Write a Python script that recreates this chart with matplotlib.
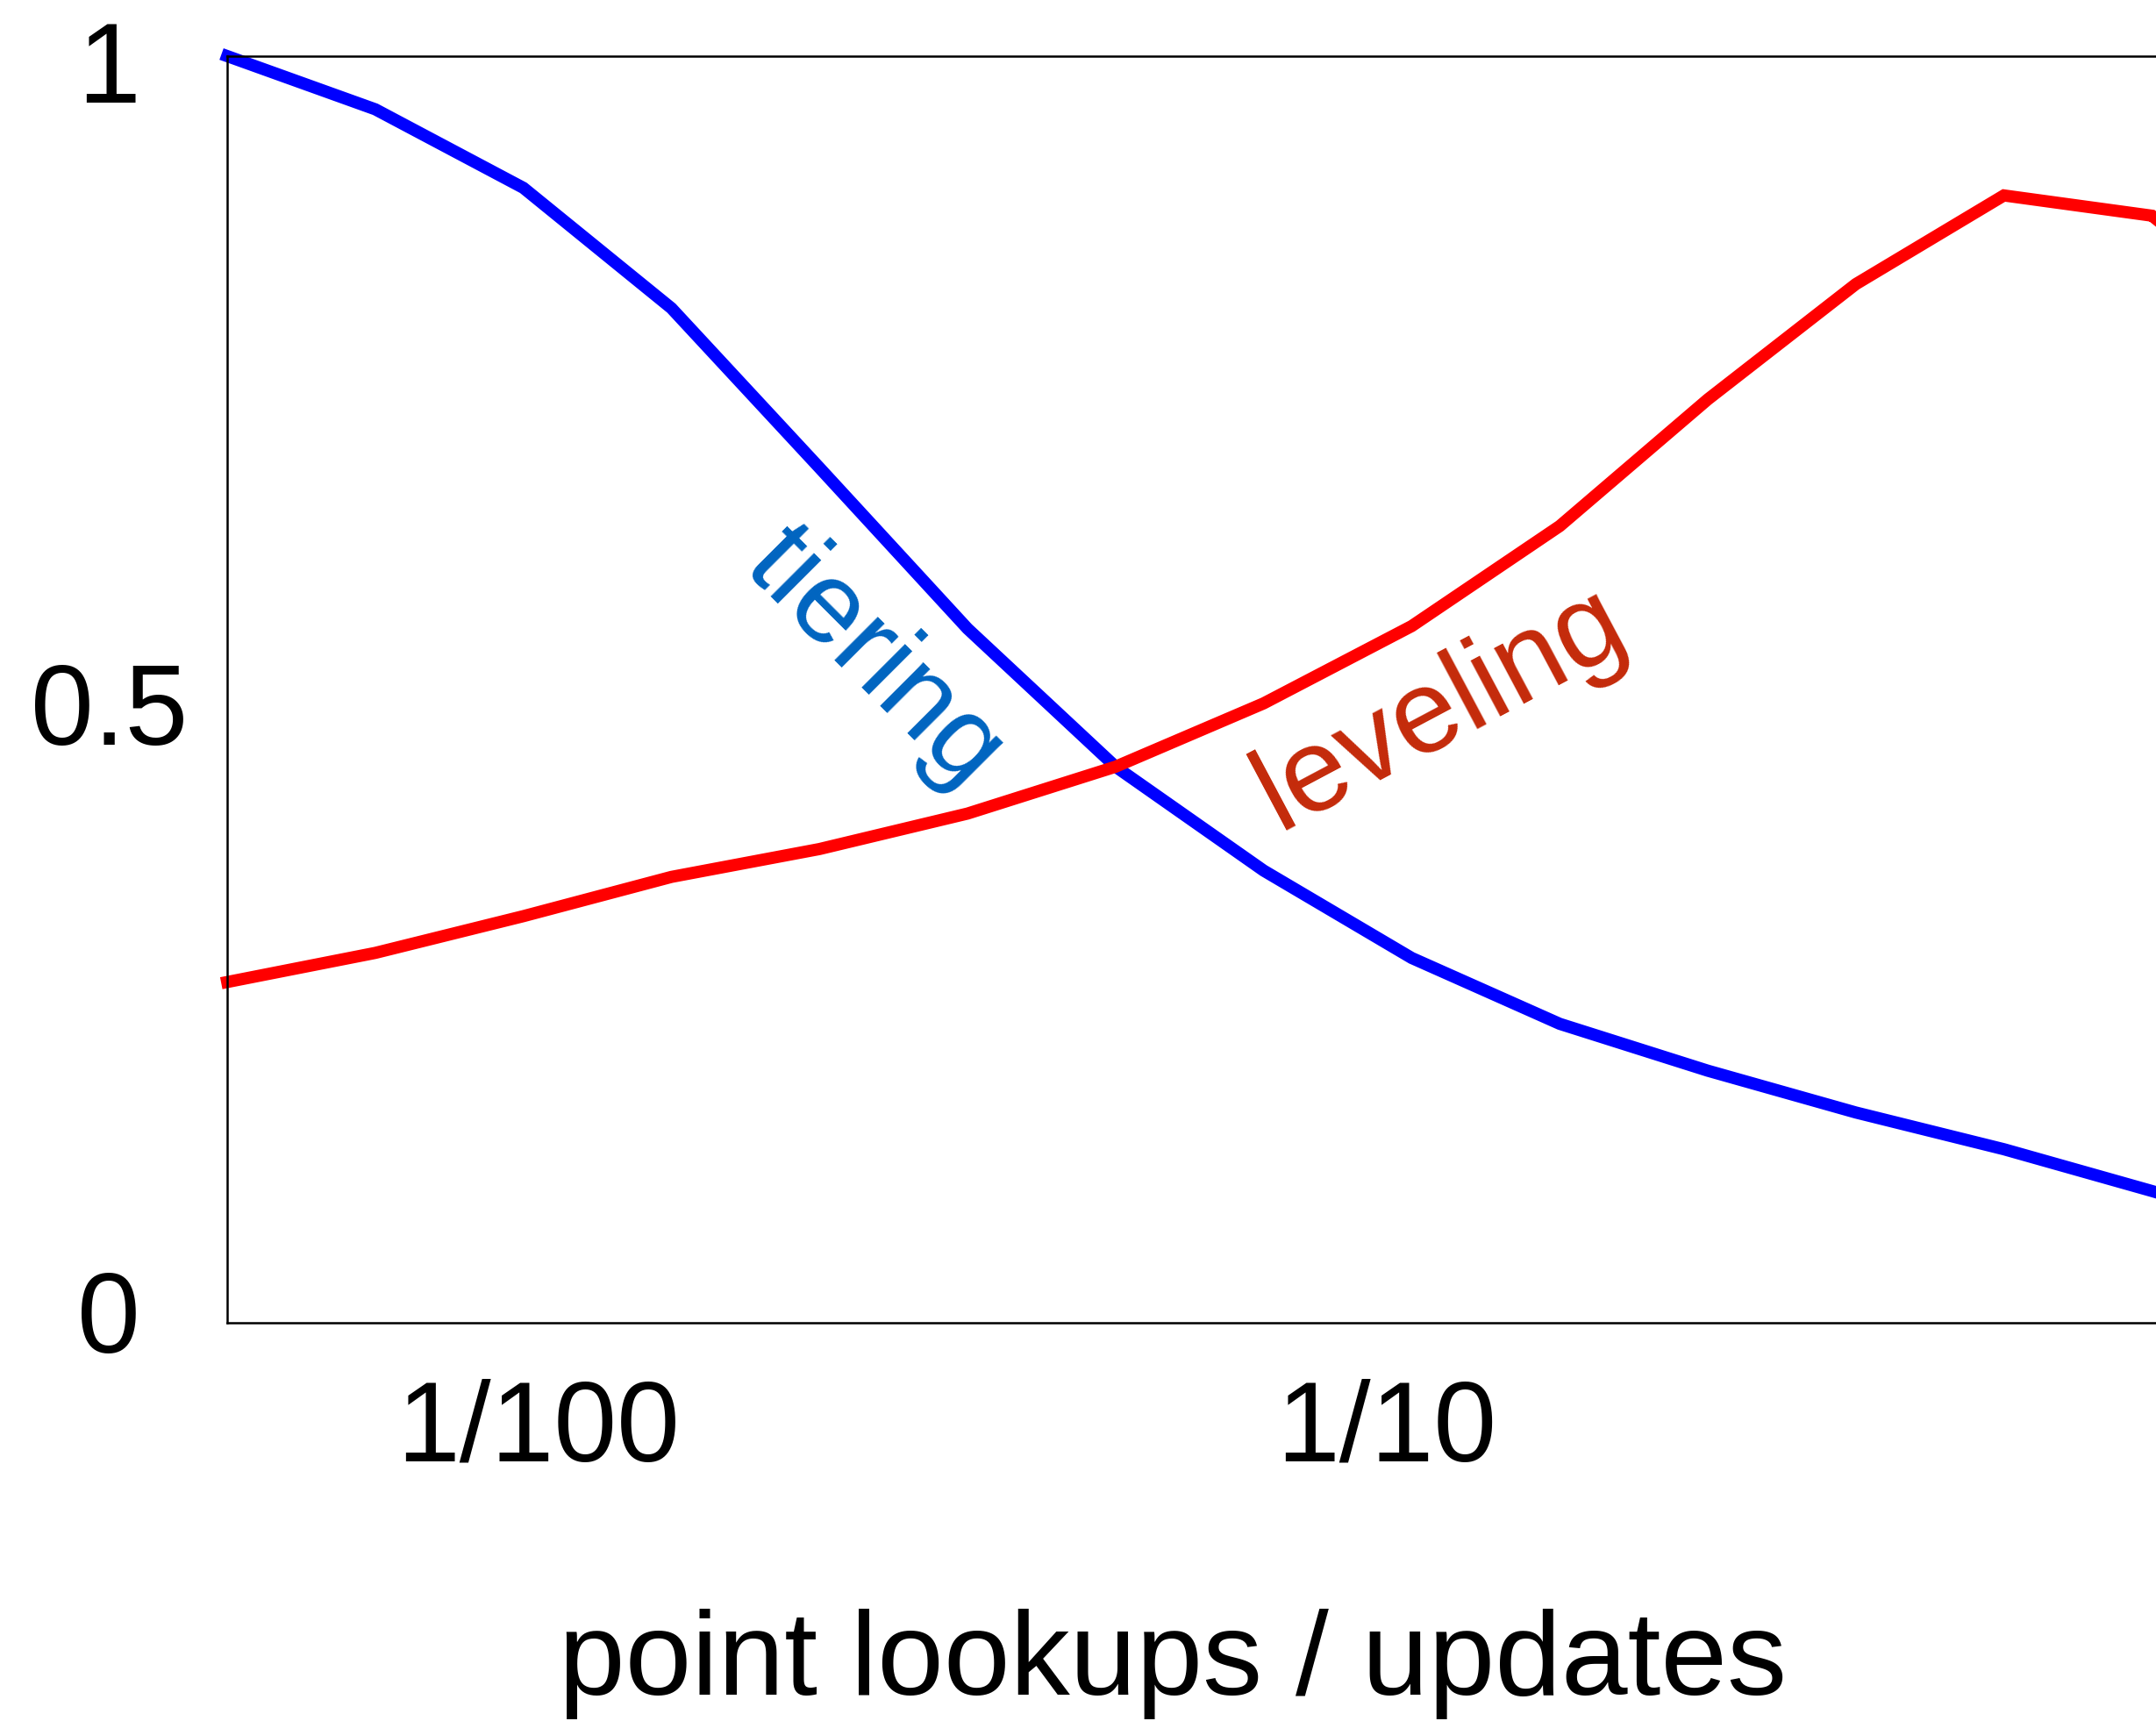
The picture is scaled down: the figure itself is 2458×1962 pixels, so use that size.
import matplotlib
matplotlib.use("Agg")
import matplotlib.pyplot as plt

# x positions of the measured points (evenly spaced on a log ratio axis)
steps = [0, 1, 2, 3, 4, 5, 6, 7, 8, 9, 10, 11, 12, 13, 14]
tiering = [1.0, 0.958, 0.896, 0.801, 0.675, 0.548, 0.439, 0.357, 0.288,
           0.236, 0.199, 0.166, 0.137, 0.104, 0.07]
leveling = [0.269, 0.292, 0.321, 0.352, 0.374, 0.402, 0.439, 0.489, 0.550,
            0.629, 0.729, 0.820, 0.890, 0.874, 0.78]

xtick_pos = [2.1, 7.83]
xtick_labels = ["1/100", "1/10"]
# labels in the original sit a little off their values, ticks are hidden
ytick_pos = [0.009, 0.489, 0.996]
ytick_labels = ["0", "0.5", "1"]

plt.rcParams['font.family'] = ['Liberation Sans', 'DejaVu Sans']

fig = plt.figure(figsize=(24.58, 19.62), dpi=100)
ax = fig.add_axes([0.1054, 0.2314, 0.9614, 0.736])

ax.plot(steps, tiering, color=(0, 0, 1), lw=10, clip_on=False,
        solid_joinstyle='miter')
ax.plot(steps, leveling, color=(1, 0, 0), lw=10, clip_on=False,
        solid_joinstyle='miter')

ax.set_xlim(0, 14)
ax.set_ylim(0, 1)

ax.set_xticks(xtick_pos)
ax.set_xticklabels(xtick_labels, fontsize=93)
ax.set_yticks(ytick_pos)
ax.set_yticklabels(ytick_labels, fontsize=93, ha='center')
ax.tick_params(axis='x', length=0, pad=46)
ax.tick_params(axis='y', length=0, pad=97)

for s in ax.spines.values():
    s.set_linewidth(1.8)

ax.text(4.37, 0.524, "tiering", color='#0064c0', fontsize=95, rotation=-45,
        ha='center', va='center', rotation_mode='anchor')
ax.text(8.2, 0.485, "leveling", color='#c42a0a', fontsize=97, rotation=28,
        ha='center', va='center', rotation_mode='anchor')

fig.text(0.544, 0.033, "point lookups / updates", fontsize=98,
         ha='center', va='center')

fig.savefig("out.png", dpi=100)
